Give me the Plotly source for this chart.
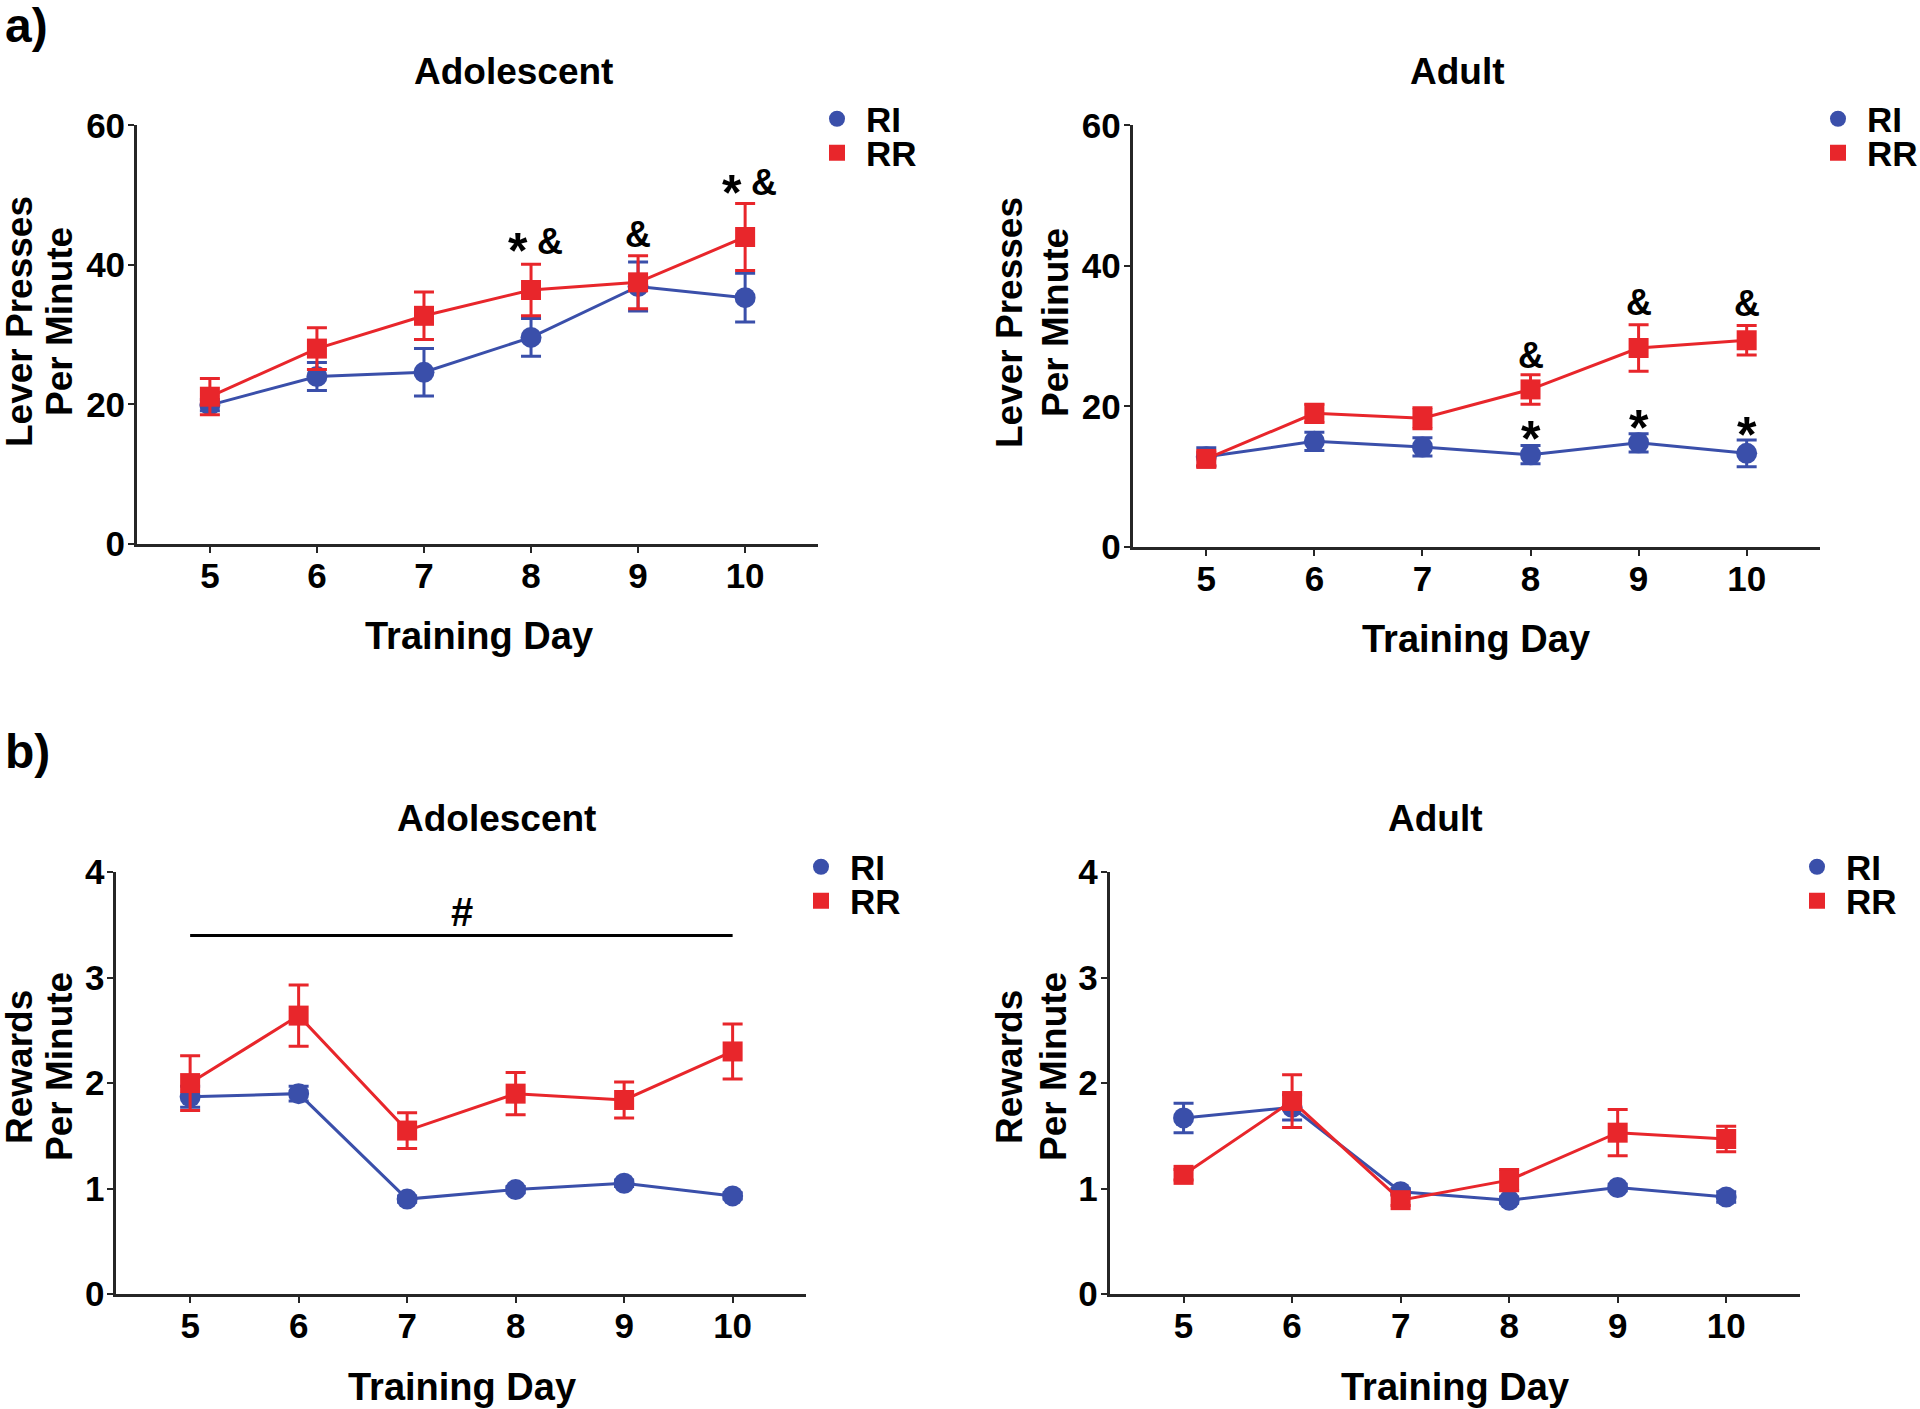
import plotly.graph_objects as go

# ---------------- data ----------------
days = [5, 6, 7, 8, 9, 10]

# a) Lever presses per minute
lp_adol_ri = [19.9, 24.0, 24.6, 29.6, 36.9, 35.3]
lp_adol_ri_err = [0.8, 2.0, 3.4, 2.7, 3.5, 3.5]
lp_adol_rr = [21.1, 28.0, 32.7, 36.4, 37.5, 44.0]
lp_adol_rr_err = [2.6, 3.0, 3.4, 3.7, 3.8, 4.8]

lp_adult_ri = [12.8, 15.0, 14.2, 13.1, 14.8, 13.3]
lp_adult_ri_err = [1.3, 1.3, 1.3, 1.3, 1.3, 1.9]
lp_adult_rr = [12.5, 19.0, 18.3, 22.4, 28.3, 29.4]
lp_adult_rr_err = [1.0, 1.3, 1.5, 2.1, 3.3, 2.1]

# b) Rewards per minute
rw_adol_ri = [1.87, 1.90, 0.90, 0.99, 1.05, 0.93]
rw_adol_ri_err = [0.10, 0.07, 0.03, 0.03, 0.03, 0.03]
rw_adol_rr = [2.00, 2.64, 1.55, 1.90, 1.84, 2.30]
rw_adol_rr_err = [0.26, 0.29, 0.17, 0.20, 0.17, 0.26]

rw_adult_ri = [1.67, 1.77, 0.97, 0.89, 1.01, 0.92]
rw_adult_ri_err = [0.14, 0.12, 0.03, 0.03, 0.03, 0.05]
rw_adult_rr = [1.13, 1.83, 0.89, 1.08, 1.53, 1.47]
rw_adult_rr_err = [0.05, 0.25, 0.05, 0.10, 0.22, 0.12]

# significance markers: (day, y, symbols)
sig_lp_adol = [(8, 43.4, "*&"), (9, 44.4, "&"), (10, 51.8, "*&")]
sig_lp_adult = [(8, 27.3, "&"), (9, 34.8, "&"), (10, 34.6, "&"),
                (8, 16.8, "*"), (9, 18.4, "*"), (10, 17.4, "*")]
sig_rw_adol_bar = (5, 10, 3.40)
sig_rw_adol_text = (7.51, 3.62, "#")

panel_titles = ["Adolescent", "Adult", "Adolescent", "Adult"]
y_titles = [("Lever Presses", "Per Minute"), ("Rewards", "Per Minute")]
x_title = "Training Day"
group_names = ["RI", "RR"]

# ---------------- style ----------------
BLUE = "#3A4FAA"
RED = "#E8262B"
FONT = "Liberation Sans, Arial, sans-serif"
W, H = 1920, 1409

fig = go.Figure()

panels = [
    dict(xa="x", ya="y", ri=lp_adol_ri, rie=lp_adol_ri_err, rr=lp_adol_rr, rre=lp_adol_rr_err),
    dict(xa="x2", ya="y2", ri=lp_adult_ri, rie=lp_adult_ri_err, rr=lp_adult_rr, rre=lp_adult_rr_err),
    dict(xa="x3", ya="y3", ri=rw_adol_ri, rie=rw_adol_ri_err, rr=rw_adol_rr, rre=rw_adol_rr_err),
    dict(xa="x4", ya="y4", ri=rw_adult_ri, rie=rw_adult_ri_err, rr=rw_adult_rr, rre=rw_adult_rr_err),
]

# legend placement (pixel centres of the symbol)
leg_sym_x = [844, 1845, 828, 1824]
leg_sym_y = [(119, 153), (119, 153), (867, 901), (867, 901)]
ITEMW = 48

legend_layout = {}
leg_idx = 0
for pi, p in enumerate(panels):
    for gi, (name, vals, errs, col, sym, sz) in enumerate([
        (group_names[0], p["ri"], p["rie"], BLUE, "circle", 21),
        (group_names[1], p["rr"], p["rre"], RED, "square", 20),
    ]):
        fig.add_trace(go.Scatter(
            x=days, y=vals, mode="lines+markers", name=name,
            xaxis=p["xa"], yaxis=p["ya"], showlegend=False,
            line=dict(color=col, width=3),
            marker=dict(color=col, symbol=sym, size=sz),
            error_y=dict(type="data", array=errs, visible=True, color=col,
                         thickness=3, width=10),
            cliponaxis=False,
        ))
        leg_idx += 1
        key = "legend" if leg_idx == 1 else "legend" + str(leg_idx)
        fig.add_trace(go.Scatter(
            x=[None], y=[None], mode="markers", name=name,
            xaxis=p["xa"], yaxis=p["ya"], showlegend=True, legend=key,
            marker=dict(color=col, symbol=sym, size=sz),
        ))
        legend_layout[key] = dict(
            x=(leg_sym_x[pi] - 36) / W, y=1 - leg_sym_y[pi][gi] / H,
            xanchor="left", yanchor="middle", bgcolor="rgba(0,0,0,0)",
            itemwidth=ITEMW, borderwidth=0,
            font=dict(family=FONT, size=35, color="black", weight="bold"))

# axis domains (paper coords)
doms = [
    ([0.0714, 0.426], [0.614, 0.911], [0, 60]),
    ([0.590, 0.948], [0.612, 0.911], [0, 60]),
    ([0.0606, 0.420], [0.0816, 0.381], [0, 4]),
    ([0.578, 0.9375], [0.0816, 0.381], [0, 4]),
]
axis_common = dict(showline=True, linecolor="#262626", linewidth=3,
                   ticks="outside", ticklen=6, tickwidth=2, tickcolor="#262626",
                   showgrid=False, zeroline=False, automargin=False,
                   tickfont=dict(family=FONT, size=35, color="black", weight="bold"))
layout = dict(width=W, height=H,
              margin=dict(l=0, r=0, t=0, b=0, pad=0, autoexpand=False),
              plot_bgcolor="white", paper_bgcolor="white")
for i, (xd, yd, yr) in enumerate(doms):
    sfx = "" if i == 0 else str(i + 1)
    layout["xaxis" + sfx] = dict(domain=xd, range=[4.32, 10.68], tickvals=days,
                                 anchor="y" + sfx, ticklabelstandoff=-7, **axis_common)
    layout["yaxis" + sfx] = dict(domain=yd, range=yr, dtick=20 if yr[1] == 60 else 1,
                                 anchor="x" + sfx, ticklabelstandoff=-4, **axis_common)
layout.update(legend_layout)
fig.update_layout(**layout)

bold = dict(family=FONT, color="black", weight="bold")
anns = []
# panel titles
title_pos = [(513, 71), (1457, 71), (496, 818), (1435, 818)]
for t, (px, py) in zip(panel_titles, title_pos):
    anns.append(dict(text=t, x=px / W, y=1 - py / H, xref="paper", yref="paper", showarrow=False,
                     xanchor="center", yanchor="middle", font=dict(size=37, **bold)))
# panel letters
anns.append(dict(text="a)", x=3 / W, y=1 - 25 / H, xref="paper", yref="paper", showarrow=False,
                 xanchor="left", yanchor="middle", font=dict(size=48, **bold)))
anns.append(dict(text="b)", x=3 / W, y=1 - 751 / H, xref="paper", yref="paper", showarrow=False,
                 xanchor="left", yanchor="middle", font=dict(size=48, **bold)))
# y titles (two lines each)
ytitle_pos = [((19, 59), 322, 0), ((1009, 1055), 323, 0), ((19, 59), 1067, 1), ((1009, 1053), 1067, 1)]
for (x1, x2), py, k in ytitle_pos:
    for px, line in zip((x1, x2), y_titles[k]):
        anns.append(dict(text=line, x=px / W, y=1 - py / H, xref="paper", yref="paper",
                         showarrow=False, textangle=-90, xanchor="center", yanchor="middle",
                         font=dict(size=37, **bold)))
# x titles
xtitle_pos = [(479, 636), (1476, 639), (462, 1387), (1455, 1387)]
for px, py in xtitle_pos:
    anns.append(dict(text=x_title, x=px / W, y=1 - py / H, xref="paper", yref="paper",
                     showarrow=False, xanchor="center", yanchor="middle",
                     font=dict(size=38, **bold)))
# significance markers
for axs, sigs in (("", sig_lp_adol), ("2", sig_lp_adult)):
    for d, yv, t in sigs:
        both = len(t) > 1
        for ch in t:
            if ch == "*":
                anns.append(dict(text="*", x=d, y=yv, xref="x" + axs, yref="y" + axs,
                                 showarrow=False, yshift=-10, xshift=-13 if both else 0,
                                 font=dict(size=50, **bold)))
            else:
                anns.append(dict(text="&", x=d, y=yv, xref="x" + axs, yref="y" + axs,
                                 showarrow=False, xshift=19 if both else 0,
                                 font=dict(size=36, **bold)))
anns.append(dict(text=sig_rw_adol_text[2], x=sig_rw_adol_text[0], y=sig_rw_adol_text[1],
                 xref="x3", yref="y3", showarrow=False, font=dict(size=40, **bold)))
fig.update_layout(annotations=anns)

fig.add_shape(type="line", xref="x3", yref="y3", x0=sig_rw_adol_bar[0], x1=sig_rw_adol_bar[1],
              y0=sig_rw_adol_bar[2], y1=sig_rw_adol_bar[2], line=dict(color="black", width=3))

fig.write_html("out.html", config={"displayModeBar": False},
               post_script="document.body.style.margin='0';document.body.style.overflow='hidden';")
